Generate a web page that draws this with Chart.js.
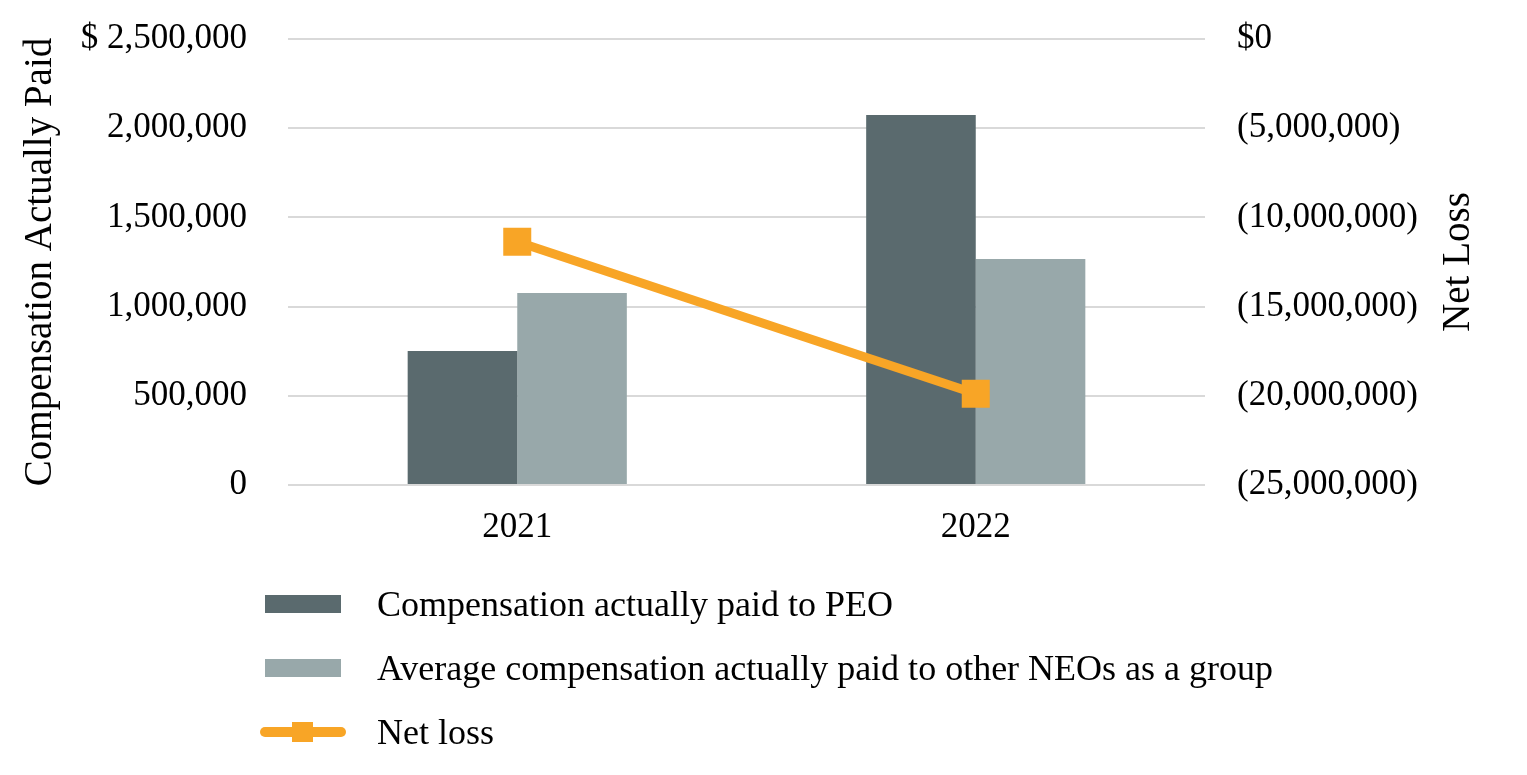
<!DOCTYPE html>
<html>
<head>
<meta charset="utf-8">
<script src="https://cdn.jsdelivr.net/npm/chart.js@4/dist/chart.umd.min.js"></script>
<style>
  html, body { margin: 0; padding: 0; background: #fff; }
  #wrap { position: relative; width: 1527px; height: 775px; }
  #legend { position: absolute; left: 0; top: 0; width: 1527px; height: 775px; pointer-events: none;
            font-family: "Liberation Serif", "Times New Roman", serif; font-size: 36px; color: #000; }
  .lg-text { position: absolute; left: 377px; line-height: 40px; white-space: nowrap; }
  .lg-box { position: absolute; left: 265px; width: 76px; height: 18px; }
  .lg-line { position: absolute; left: 260px; width: 86px; height: 10px; border-radius: 5px; }
  .lg-pt { position: absolute; left: 292px; width: 21px; height: 20px; }
</style>
</head>
<body>
<div id="wrap">
  <canvas id="c"></canvas>
  <div id="legend"></div>
</div>
<script>
const categories = ['2021', '2022'];
const peoComp = [751000, 2074000];
const neoAvgComp = [1076000, 1267000];
const netLoss = [-11360000, -19880000];
const seriesLabels = [
  'Compensation actually paid to PEO',
  'Average compensation actually paid to other NEOs as a group',
  'Net loss'
];
const leftTicks = { min: 0, max: 2500000, step: 500000 };
const rightTicks = { min: -25000000, max: 0, step: 5000000 };

const FONT = '"Liberation Serif", "Times New Roman", serif';
const C_PEO = '#5A6A6E';
const C_NEO = '#98A8AA';
const C_NET = '#F8A526';

const fmt = v => Math.abs(v).toLocaleString('en-US');

const rightTitlePlugin = {
  id: 'rightTitle',
  afterDraw(chart) {
    const ctx = chart.ctx;
    const s = chart.scales.yRight;
    const cy = (chart.chartArea.top + chart.chartArea.bottom) / 2;
    ctx.save();
    ctx.translate(s.left + 264, cy);
    ctx.rotate(-Math.PI / 2);
    ctx.font = '39px ' + FONT;
    ctx.fillStyle = '#000';
    ctx.textAlign = 'center';
    ctx.textBaseline = 'alphabetic';
    ctx.fillText('Net Loss', 0, 0);
    ctx.restore();
  }
};

const chart = new Chart(document.getElementById('c'), {
  data: {
    labels: categories,
    datasets: [
      { type: 'bar', label: seriesLabels[0], data: peoComp, backgroundColor: C_PEO, yAxisID: 'y', order: 1,
        categoryPercentage: 0.478, barPercentage: 1.0 },
      { type: 'bar', label: seriesLabels[1], data: neoAvgComp, backgroundColor: C_NEO, yAxisID: 'y', order: 1,
        categoryPercentage: 0.478, barPercentage: 1.0 },
      { type: 'line', label: seriesLabels[2], data: netLoss, borderColor: C_NET, backgroundColor: C_NET,
        borderWidth: 9, pointStyle: 'rect', pointRadius: 19.8, pointHoverRadius: 19.8,
        pointBackgroundColor: C_NET, pointBorderWidth: 0, yAxisID: 'yRight', order: 0, tension: 0 }
    ]
  },
  options: {
    responsive: true,
    maintainAspectRatio: false,
    animation: false,
    devicePixelRatio: 1,
    layout: { padding: { top: 39, left: 0, right: 0, bottom: 0 } },
    plugins: { legend: { display: false }, tooltip: { enabled: false }, title: { display: false } },
    scales: {
      x: {
        grid: { display: false, drawTicks: false },
        border: { display: false },
        ticks: { color: '#000', font: { family: FONT, size: 35 }, padding: 22, maxRotation: 0, autoSkip: false },
        afterFit: s => { s.height = 290; s.paddingLeft = 0; s.paddingRight = 0; }
      },
      y: {
        position: 'left',
        min: leftTicks.min, max: leftTicks.max,
        grid: { color: '#D9D9D9', lineWidth: 2, drawTicks: false },
        border: { display: false },
        ticks: {
          stepSize: leftTicks.step, color: '#000', font: { family: FONT, size: 35 }, padding: 41,
          callback: v => (v === leftTicks.max ? '$ ' : '') + fmt(v)
        },
        title: { display: true, text: 'Compensation Actually Paid', color: '#000',
                 font: { family: FONT, size: 39 }, padding: { top: 17, bottom: 0 } },
        afterFit: s => { s.width = 288; s.paddingTop = 0; s.paddingBottom = 0; }
      },
      yRight: {
        position: 'right',
        min: rightTicks.min, max: rightTicks.max,
        grid: { display: false, drawTicks: false },
        border: { display: false },
        ticks: {
          stepSize: rightTicks.step, color: '#000', font: { family: FONT, size: 35 }, padding: 32,
          callback: v => (v === 0 ? '$0' : '(' + fmt(v) + ')')
        },
        afterFit: s => { s.width = 322; s.paddingTop = 0; s.paddingBottom = 0; }
      }
    }
  },
  plugins: [rightTitlePlugin]
});

// HTML legend built from the chart's datasets
(function buildLegend() {
  const lg = document.getElementById('legend');
  const rowCenters = [604, 668, 731.5];
  chart.data.datasets.forEach((ds, i) => {
    const cy = rowCenters[i];
    if (ds.type === 'bar') {
      const b = document.createElement('div');
      b.className = 'lg-box';
      b.style.background = ds.backgroundColor;
      b.style.top = (cy - 9) + 'px';
      lg.appendChild(b);
    } else {
      const l = document.createElement('div');
      l.className = 'lg-line';
      l.style.background = ds.borderColor;
      l.style.top = (cy - 5) + 'px';
      lg.appendChild(l);
      const p = document.createElement('div');
      p.className = 'lg-pt';
      p.style.background = ds.pointBackgroundColor;
      p.style.top = (cy - 10) + 'px';
      lg.appendChild(p);
    }
    const t = document.createElement('div');
    t.className = 'lg-text';
    t.textContent = ds.label;
    t.style.top = (cy - 20) + 'px';
    lg.appendChild(t);
  });
})();
</script>
</body>
</html>
